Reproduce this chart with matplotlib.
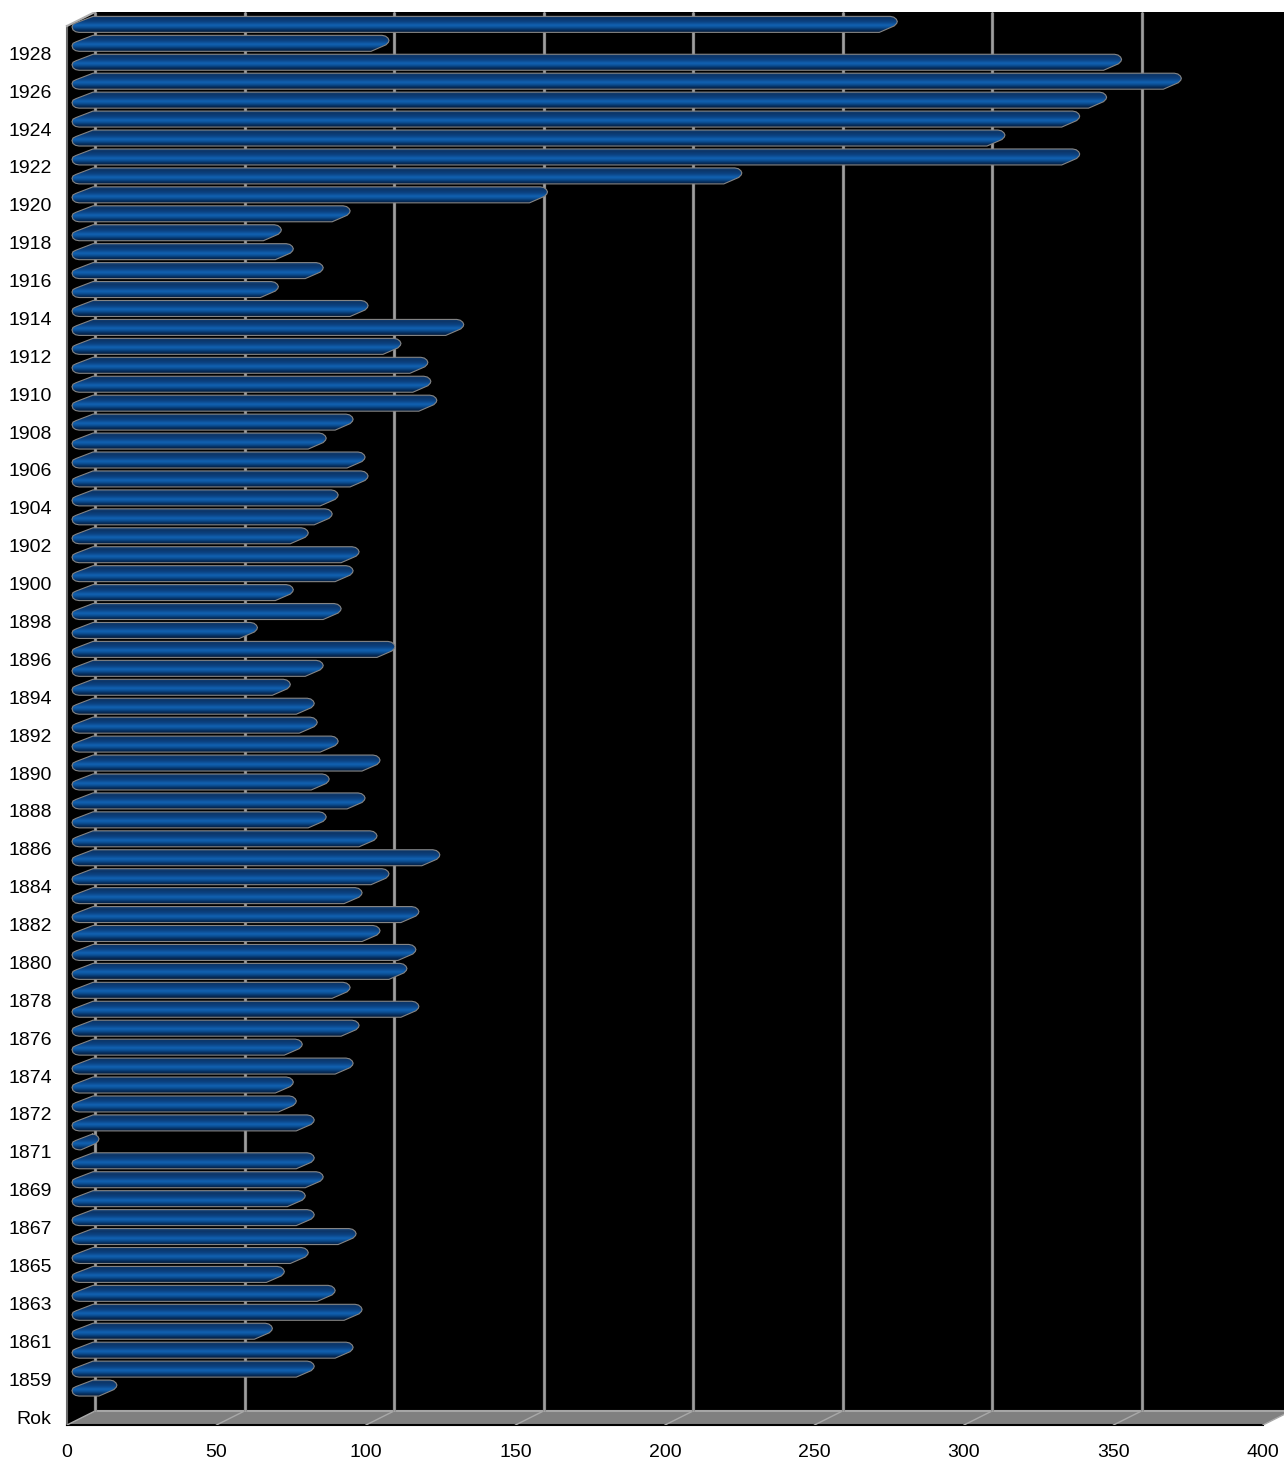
import numpy as np
import matplotlib.pyplot as plt
from matplotlib.path import Path
from matplotlib.patches import PathPatch, Polygon
from matplotlib.colors import LinearSegmentedColormap

plt.rcParams['font.family'] = ['Liberation Sans', 'DejaVu Sans']

# categories (bottom -> top); "Rok" is the header row with no value
years = (['Rok'] + [str(y) for y in range(1858, 1872)] + ['1871/72']
         + [str(y) for y in range(1872, 1930)])
values = [None, 8, 74, 87, 60, 90, 81, 64, 72, 88, 74, 71, 77, 74, 2,
          74, 68, 67, 87, 70, 89, 109, 86, 105, 108, 96, 109, 90, 99, 116,
          95, 78, 91, 79, 96, 82, 75, 74, 66, 77, 101, 55, 83, 67, 87,
          89, 72, 80, 82, 92, 91, 78, 87, 115, 113, 112, 103, 124, 92, 62,
          77, 67, 63, 86, 152, 217, 330, 305, 330, 339, 364, 344, 99, 269]
xticks = [0, 50, 100, 150, 200, 250, 300, 350, 400]

W, H = 1284, 1463
PXX = 2.99      # px per value unit (front plane)
PXY = 18.94     # px per category
fig = plt.figure(figsize=(W / 100, H / 100), dpi=100)
# axes: left edge 60px, right edge = image edge, bottom = floor front, top = wall top
left_px, bot_px, top_px, x0_px = 60, 1425, 12, 67
ax = fig.add_axes([left_px / W, (H - bot_px) / H, (W - left_px) / W, (bot_px - top_px) / H])
xlo = -(x0_px - left_px) / PXX
xhi = (W - x0_px) / PXX
y0 = -(bot_px - 1417) / PXY            # floor front
ytop = y0 + (bot_px - top_px) / PXY
ax.set_xlim(xlo, xhi)
ax.set_ylim(y0, ytop)
for s in ax.spines.values():
    s.set_visible(False)

DX = 28 / PXX   # depth offset
DY = 14 / PXY
kx, ky = 1 / PXX, 1 / PXY

# back wall + left wall
ax.add_patch(Polygon([(DX, y0 + DY), (400 + DX, y0 + DY), (400 + DX, ytop), (DX, ytop)],
                     closed=True, facecolor='black', edgecolor='none', zorder=0))
ax.add_patch(Polygon([(0, y0), (DX, y0 + DY), (DX, ytop), (0, ytop - DY)],
                     closed=True, facecolor='black', edgecolor='none', zorder=0))
ax.plot([0, 0], [y0, ytop - DY], color='#6a6a6a', lw=1.5, zorder=1, clip_on=False)
ax.plot([0, DX], [ytop - DY, ytop], color='#b0b0b0', lw=1.5, zorder=1)

# floor
ax.add_patch(Polygon([(0, y0), (400, y0), (400 + DX, y0 + DY), (DX, y0 + DY)],
                     closed=True, facecolor='#808080', edgecolor='none', zorder=1))
ax.plot([DX, 400 + DX], [y0 + DY, y0 + DY], color='#a6a6a6', lw=1.5, zorder=1)
ax.plot([0, 400], [y0, y0], color='black', lw=1.5, zorder=1, clip_on=False)
for t in xticks:
    ax.plot([t, t + DX], [y0, y0 + DY], color='#a8a8a8', lw=1, zorder=1)

# grid on back wall
for t in xticks:
    ax.plot([t + DX, t + DX], [y0 + DY, ytop], color='#8a8a8a', lw=2.3, zorder=2,
            solid_capstyle='butt')
    ax.plot([t + DX, t + DX], [y0 + DY, ytop], color='#a4a4a4', lw=0.6, zorder=2)

cmap = LinearSegmentedColormap.from_list('bar', [
    (0.0, '#18457a'), (0.12, '#0c3566'), (0.35, '#0b4282'), (0.58, '#1262b2'),
    (0.72, '#0b4f94'), (0.88, '#062d5c'), (1.0, '#041d3c')])
grad = np.linspace(0, 1, 64).reshape(-1, 1)


def bar_path(v, i):
    yc = i + 10 / PXY
    xs = 5 * kx
    xt = v + 26 * kx
    pts = [(xs + 21 * kx, 8), (xt - 7 * kx, 8)]
    cap_r = [(-3.5, 7.2), (-1, 5.2), (0, 3), (-0.6, 1), (-3, -1.5), (-18, -8)]
    pts += [(xt + dx * kx, dy) for dx, dy in cap_r]
    cap_l = [(7, -8), (3.5, -7.3), (1, -5.5), (0, -2.5), (1, 0), (4, 1.5), (21, 8)]
    pts += [(xs + dx * kx, dy) for dx, dy in cap_l]
    verts = [(x, yc + dy * ky) for x, dy in pts]
    return verts, yc


for i, v in enumerate(values):
    if v is None:
        continue
    verts, yc = bar_path(v, i)
    patch = PathPatch(Path(verts, closed=True), facecolor='none',
                      edgecolor='#858585', lw=0.8, zorder=4)
    ax.add_patch(patch)
    xs_ = [p[0] for p in verts]
    im = ax.imshow(grad, extent=[min(xs_), max(xs_), yc - 8 * ky, yc + 8 * ky],
                   origin='upper', aspect='auto', cmap=cmap, interpolation='bilinear',
                   zorder=3)
    im.set_clip_path(patch)

ax.set_xlim(xlo, xhi)
ax.set_ylim(y0, ytop)
ax.set_aspect('auto')

ax.set_yticks(range(0, 73, 2))
ax.set_yticklabels(years[0:73:2], fontsize=14)
ax.set_xticks(xticks)
ax.set_xticklabels([str(t) for t in xticks], fontsize=14)
ax.tick_params(axis='y', length=0, pad=6)
ax.tick_params(axis='x', length=0, pad=14)

fig.savefig('out.png', dpi=100, facecolor='white')
